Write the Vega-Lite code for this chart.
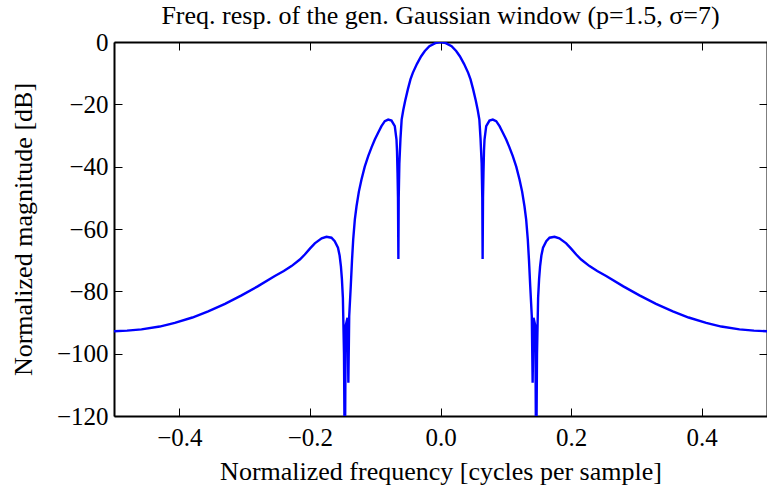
{
  "$schema": "https://vega.github.io/schema/vega-lite/v6.json",
  "width": 653,
  "height": 374,
  "autosize": {"type": "none"},
  "padding": {"left": 114, "top": 42, "right": 0, "bottom": 73},
  "title": {"text": "Freq. resp. of the gen. Gaussian window (p=1.5, σ=7)", "font": "Liberation Serif", "fontSize": 26, "fontWeight": "normal", "color": "#000000", "offset": 1, "anchor": "middle"},
  "config": {"view": {"stroke": null}, "font": "Liberation Serif"},
  "data": {"values": [
    {"f": -0.5, "db": -92.8}, {"f": -0.48, "db": -92.6}, {"f": -0.4579, "db": -92.2}, {"f": -0.43, "db": -91.3}, {"f": -0.4069, "db": -90.1}, {"f": -0.38, "db": -88.4}, {"f": -0.3558, "db": -86.4}, {"f": -0.33, "db": -84}, {"f": -0.3047, "db": -81.3}, {"f": -0.28, "db": -78.4}, {"f": -0.2537, "db": -75.1}, {"f": -0.24, "db": -73.5}, {"f": -0.2282, "db": -71.9}, {"f": -0.2154, "db": -69.8}, {"f": -0.2078, "db": -68.2}, {"f": -0.2, "db": -66.3}, {"f": -0.1925, "db": -64.6}, {"f": -0.182, "db": -63}, {"f": -0.1746, "db": -62.5}, {"f": -0.167, "db": -62.8}, {"f": -0.162, "db": -63.9}, {"f": -0.157, "db": -66}, {"f": -0.1545, "db": -68.5}, {"f": -0.1525, "db": -72}, {"f": -0.151, "db": -76}, {"f": -0.1495, "db": -82}, {"f": -0.1478, "db": -100}, {"f": -0.1465, "db": -140}, {"f": -0.1452, "db": -91}, {"f": -0.1424, "db": -88.5}, {"f": -0.1411, "db": -109.3}, {"f": -0.1398, "db": -88}, {"f": -0.1374, "db": -78.3}, {"f": -0.1355, "db": -70}, {"f": -0.1337, "db": -63.4}, {"f": -0.1312, "db": -57}, {"f": -0.1286, "db": -52.7}, {"f": -0.125, "db": -48}, {"f": -0.121, "db": -44.1}, {"f": -0.116, "db": -40}, {"f": -0.1107, "db": -36.6}, {"f": -0.1056, "db": -33.8}, {"f": -0.1006, "db": -31.3}, {"f": -0.0955, "db": -29.1}, {"f": -0.0904, "db": -27}, {"f": -0.0853, "db": -25.4}, {"f": -0.0801, "db": -24.9}, {"f": -0.075, "db": -25.2}, {"f": -0.07, "db": -27}, {"f": -0.0674, "db": -31.3}, {"f": -0.0666, "db": -35}, {"f": -0.0658, "db": -42}, {"f": -0.0651, "db": -50}, {"f": -0.0645, "db": -69.6}, {"f": -0.064, "db": -50}, {"f": -0.063, "db": -39}, {"f": -0.0613, "db": -31}, {"f": -0.0595, "db": -24.9}, {"f": -0.057, "db": -21.8}, {"f": -0.054, "db": -18.8}, {"f": -0.05, "db": -15.2}, {"f": -0.046, "db": -12}, {"f": -0.0424, "db": -9.9}, {"f": -0.036, "db": -7}, {"f": -0.0296, "db": -4.55}, {"f": -0.024, "db": -2.9}, {"f": -0.017, "db": -1.35}, {"f": -0.008, "db": -0.35},
    {"f": 0, "db": 0},
    {"f": 0.008, "db": -0.35}, {"f": 0.017, "db": -1.35}, {"f": 0.024, "db": -2.9}, {"f": 0.0296, "db": -4.55}, {"f": 0.036, "db": -7}, {"f": 0.0424, "db": -9.9}, {"f": 0.046, "db": -12}, {"f": 0.05, "db": -15.2}, {"f": 0.054, "db": -18.8}, {"f": 0.057, "db": -21.8}, {"f": 0.0595, "db": -24.9}, {"f": 0.0613, "db": -31}, {"f": 0.063, "db": -39}, {"f": 0.064, "db": -50}, {"f": 0.0645, "db": -69.6}, {"f": 0.0651, "db": -50}, {"f": 0.0658, "db": -42}, {"f": 0.0666, "db": -35}, {"f": 0.0674, "db": -31.3}, {"f": 0.07, "db": -27}, {"f": 0.075, "db": -25.2}, {"f": 0.0801, "db": -24.9}, {"f": 0.0853, "db": -25.4}, {"f": 0.0904, "db": -27}, {"f": 0.0955, "db": -29.1}, {"f": 0.1006, "db": -31.3}, {"f": 0.1056, "db": -33.8}, {"f": 0.1107, "db": -36.6}, {"f": 0.116, "db": -40}, {"f": 0.121, "db": -44.1}, {"f": 0.125, "db": -48}, {"f": 0.1286, "db": -52.7}, {"f": 0.1312, "db": -57}, {"f": 0.1337, "db": -63.4}, {"f": 0.1355, "db": -70}, {"f": 0.1374, "db": -78.3}, {"f": 0.1398, "db": -88}, {"f": 0.1411, "db": -109.3}, {"f": 0.1424, "db": -88.5}, {"f": 0.1452, "db": -91}, {"f": 0.1465, "db": -140}, {"f": 0.1478, "db": -100}, {"f": 0.1495, "db": -82}, {"f": 0.151, "db": -76}, {"f": 0.1525, "db": -72}, {"f": 0.1545, "db": -68.5}, {"f": 0.157, "db": -66}, {"f": 0.162, "db": -63.9}, {"f": 0.167, "db": -62.8}, {"f": 0.1746, "db": -62.5}, {"f": 0.182, "db": -63}, {"f": 0.1925, "db": -64.6}, {"f": 0.2, "db": -66.3}, {"f": 0.2078, "db": -68.2}, {"f": 0.2154, "db": -69.8}, {"f": 0.2282, "db": -71.9}, {"f": 0.24, "db": -73.5}, {"f": 0.2537, "db": -75.1}, {"f": 0.28, "db": -78.4}, {"f": 0.3047, "db": -81.3}, {"f": 0.33, "db": -84}, {"f": 0.3558, "db": -86.4}, {"f": 0.38, "db": -88.4}, {"f": 0.4069, "db": -90.1}, {"f": 0.43, "db": -91.3}, {"f": 0.4579, "db": -92.2}, {"f": 0.48, "db": -92.6}, {"f": 0.5, "db": -92.8}
  ]},
  "layer": [
    {
      "mark": {"type": "line", "color": "#0000ff", "strokeWidth": 2.4, "clip": true},
      "encoding": {
        "x": {"field": "f", "type": "quantitative", "scale": {"domain": [-0.5, 0.5], "nice": false, "zero": false},
          "axis": {"orient": "bottom", "values": [-0.4, -0.2, 0, 0.2, 0.4], "format": ".1f", "title": "Normalized frequency [cycles per sample]", "grid": false, "tickSize": -8, "tickColor": "#000000", "tickWidth": 1, "domainColor": "#000000", "domainWidth": 2, "labelFont": "Liberation Serif", "labelFontSize": 25, "labelColor": "#000000", "labelPadding": 17, "titleFont": "Liberation Serif", "titleFontSize": 26, "titleFontWeight": "normal", "titleColor": "#000000", "titlePadding": 8}},
        "y": {"field": "db", "type": "quantitative", "scale": {"domain": [-120, 0], "nice": false, "zero": false},
          "axis": {"orient": "left", "values": [-120, -100, -80, -60, -40, -20, 0], "format": "d", "title": "Normalized magnitude [dB]", "grid": false, "tickSize": -8, "tickColor": "#000000", "tickWidth": 1, "domainColor": "#000000", "domainWidth": 2, "labelFont": "Liberation Serif", "labelFontSize": 25, "labelColor": "#000000", "labelPadding": 14, "titleFont": "Liberation Serif", "titleFontSize": 26, "titleFontWeight": "normal", "titleColor": "#000000", "titlePadding": 20}}
      }
    },
    {
      "mark": {"type": "line", "strokeOpacity": 0, "clip": true},
      "encoding": {
        "x": {"field": "f", "type": "quantitative", "axis": {"orient": "top", "values": [-0.4, -0.2, 0, 0.2, 0.4], "labels": false, "title": null, "grid": false, "tickSize": -8, "tickColor": "#000000", "tickWidth": 1, "domainColor": "#000000", "domainWidth": 2}},
        "y": {"field": "db", "type": "quantitative", "axis": {"orient": "right", "values": [-120, -100, -80, -60, -40, -20, 0], "labels": false, "title": null, "grid": false, "tickSize": -8, "tickColor": "#000000", "tickWidth": 1, "domainColor": "#000000", "domainWidth": 2}}
      }
    }
  ],
  "resolve": {"axis": {"x": "independent", "y": "independent"}}
}
